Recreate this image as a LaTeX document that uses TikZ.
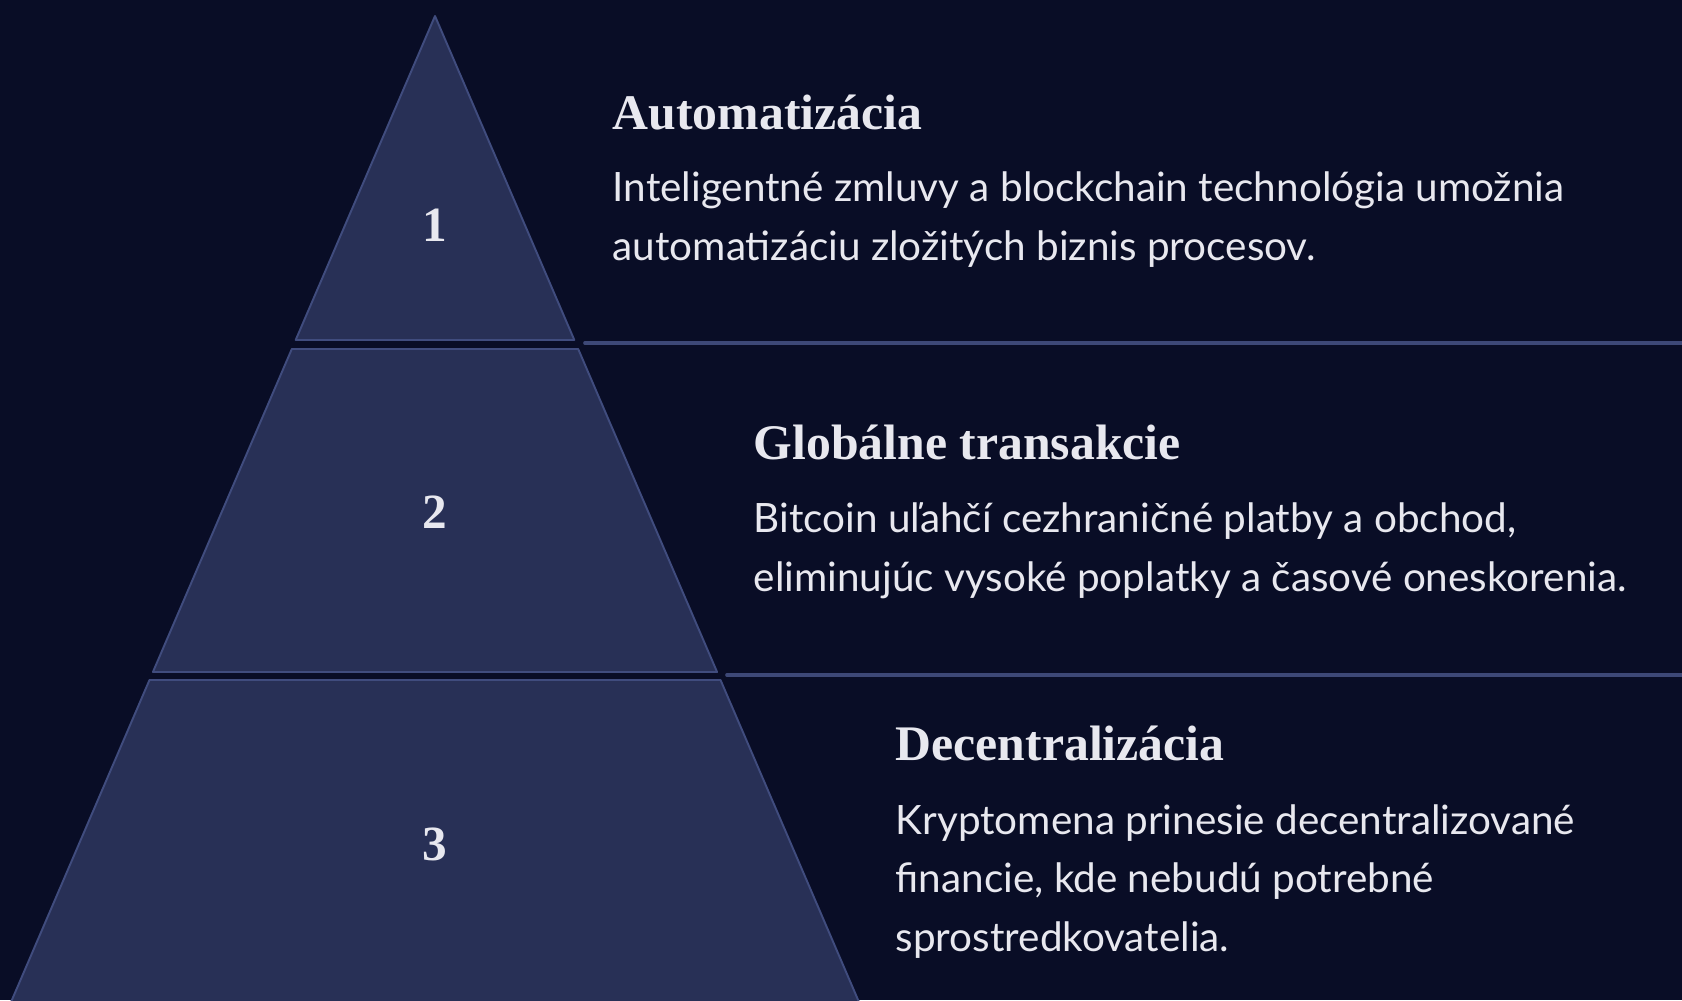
\documentclass[tikz,border=0pt]{standalone}
\usepackage{fontspec}
\setmainfont{Liberation Serif}
\newfontfamily\bodyfont{Lato}
\definecolor{bgnavy}{HTML}{090D26}
\definecolor{tierfill}{HTML}{283056}
\definecolor{tierline}{HTML}{404C7E}
\definecolor{sepline}{HTML}{3D4877}
\definecolor{txt}{HTML}{E8E8EF}
\begin{document}
\begin{tikzpicture}[x=0.01cm,y=-0.01cm,
  tier/.style={fill=tierfill,draw=tierline,line width=0.55pt,line join=round},
  num/.style={text=txt,font=\fontsize{14}{14}\selectfont\bfseries},
  head/.style={anchor=base west,inner sep=0pt,text=txt,font=\fontsize{14.15}{16}\selectfont\bfseries},
  body/.style={anchor=base west,inner sep=0pt,align=left,text=txt,font=\bodyfont\fontsize{11.5}{16.5}\selectfont},
  sep/.style={draw=sepline,line width=1.05pt,line cap=round}]
  \fill[bgnavy] (0,0) rectangle (1682,1000);
  \useasboundingbox (0,0) rectangle (1682,1000);
  % pyramid tiers
  \foreach \top/\bot in {16/340,349/672,680/1006}{
    \pgfmathsetmacro\wt{0.43*(\top-16)}
    \pgfmathsetmacro\wb{0.43*(\bot-16)}
    \draw[tier] (435-\wt,\top) -- (435+\wt,\top) -- (435+\wb,\bot) -- (435-\wb,\bot) -- cycle;
  }
  \node[num] (n1) at (435,225) {1};
  \node[num] (n2) at (435,512) {2};
  \node[num] (n3) at (435,844) {3};
  % separators
  \coordinate (s1a) at (585,343);
  \coordinate (s1b) at (1690,343);
  \coordinate (s2a) at (727,675);
  \coordinate (s2b) at (1690,675);
  \draw[sep] (s1a) -- (s1b);
  \draw[sep] (s2a) -- (s2b);
  % texts (body anchors sit below the last line)
  \node[head] (h1) at (612,129) {Automatizácia};
  \node[body] (b1) at (612,260) {Inteligentné zmluvy a blockchain technológia umožnia\\automatizáciu zložitých biznis procesov.};
  \node[head] (h2) at (753,459) {Globálne transakcie};
  \node[body] (b2) at (753,591) {Bitcoin uľahčí cezhraničné platby a obchod,\\eliminujúc vysoké poplatky a časové oneskorenia.};
  \node[head] (h3) at (895,760) {Decentralizácia};
  \node[body] (b3) at (895,951) {Kryptomena prinesie decentralizované\\financie, kde nebudú potrebné\\sprostredkovatelia.};
\end{tikzpicture}
\end{document}
